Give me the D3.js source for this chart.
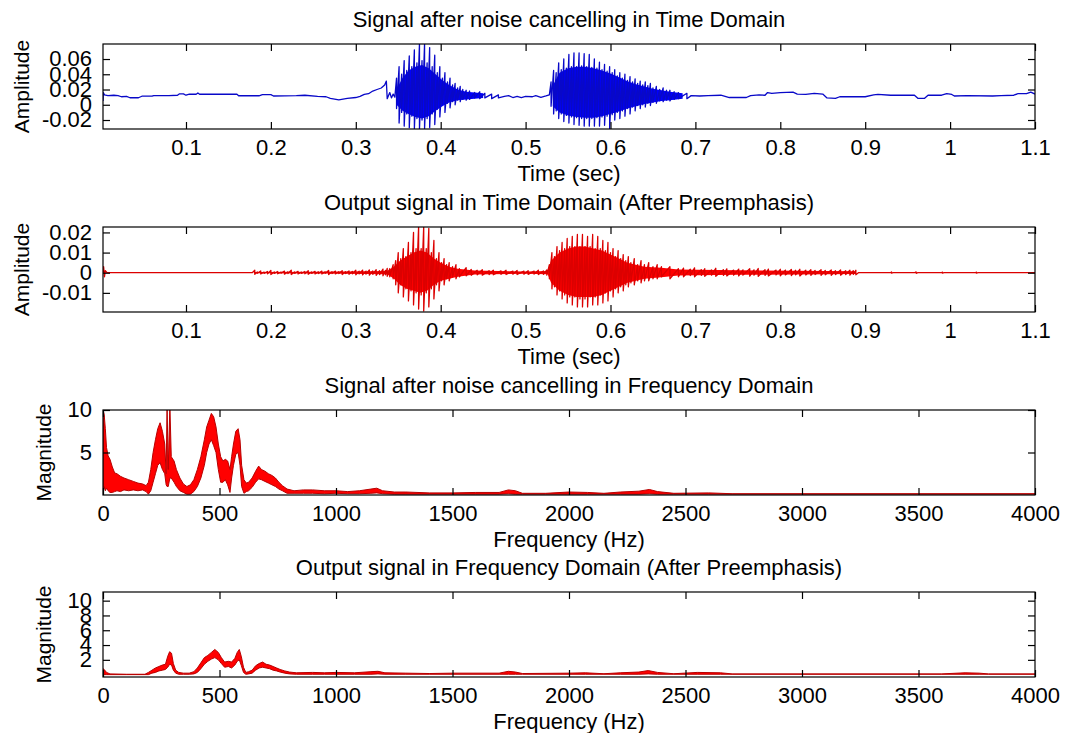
<!DOCTYPE html>
<html>
<head>
<meta charset="utf-8">
<script src="https://cdn.jsdelivr.net/npm/d3@7"></script>
<style>
  body { margin: 0; background: #fff; }
  text { font-family: "Liberation Sans", Arial, sans-serif; fill: #000; }
</style>
</head>
<body>
<script>
// tick values for each panel
const timeTicks = [0.1, 0.2, 0.3, 0.4, 0.5, 0.6, 0.7, 0.8, 0.9, 1, 1.1];
const freqTicks = [0, 500, 1000, 1500, 2000, 2500, 3000, 3500, 4000];
const cleanAmpTicks = [-0.02, 0, 0.02, 0.04, 0.06];
const preAmpTicks = [-0.01, 0, 0.01, 0.02];
const cleanMagTicks = [5, 10];
const preMagTicks = [2, 4, 6, 8, 10];

// waveform trace rows: [t, v] for a single sample, [t, high, low] where the trace swings
const cleanSignal = [
  [0.0023, 0.005], [0.0026, 0.016], [0.004, 0.013], [0.008, 0.012], [0.015, 0.0125], [0.02, 0.012],
  [0.024, 0.0105], [0.03, 0.011], [0.034, 0.0092], [0.044, 0.0092], [0.048, 0.0112], [0.06, 0.0112],
  [0.062, 0.012], [0.08, 0.012], [0.09, 0.0125], [0.092, 0.0142], [0.097, 0.0142], [0.1, 0.0125],
  [0.104, 0.0138], [0.112, 0.0138], [0.114, 0.0155], [0.116, 0.0138], [0.16, 0.0138], [0.162, 0.0118],
  [0.186, 0.0118], [0.19, 0.0132], [0.2, 0.0132], [0.203, 0.0115], [0.23, 0.012], [0.24, 0.0125],
  [0.255, 0.011], [0.265, 0.0105], [0.27, 0.0085], [0.28, 0.0065], [0.29, 0.0085], [0.3, 0.0095],
  [0.305, 0.011], [0.31, 0.0135], [0.315, 0.0145], [0.32, 0.018], [0.325, 0.02], [0.33, 0.022],
  [0.334, 0.026], [0.336, 0.031], [0.337, 0.008], [0.34, 0.016], [0.342, 0.009], [0.344, 0.014], [0.346, 0.01],
  [0.348, 0.035, -0.005], [0.351, 0.05, -0.024], [0.354, 0.04, -0.01], [0.357, 0.058, -0.028],
  [0.36, 0.045, -0.012], [0.363, 0.064, -0.03], [0.366, 0.05, -0.015], [0.369, 0.072, -0.032],
  [0.372, 0.055, -0.018], [0.375, 0.08, -0.032], [0.378, 0.058, -0.02], [0.381, 0.08, -0.032],
  [0.384, 0.055, -0.018], [0.387, 0.075, -0.03], [0.39, 0.05, -0.012], [0.393, 0.065, -0.026],
  [0.396, 0.042, -0.006], [0.399, 0.05, -0.016], [0.402, 0.035, 0.0], [0.405, 0.042, -0.01],
  [0.408, 0.03, 0.002], [0.411, 0.035, -0.004], [0.414, 0.026, 0.004], [0.417, 0.028, 0.0],
  [0.42, 0.022, 0.006], [0.423, 0.024, 0.004], [0.426, 0.02, 0.007], [0.43, 0.019, 0.006],
  [0.434, 0.018, 0.007], [0.44, 0.016, 0.009], [0.446, 0.017, 0.008], [0.452, 0.015, 0.009],
  [0.46, 0.014, 0.008], [0.468, 0.013, 0.009],
  [0.475, 0.011], [0.48, 0.012], [0.485, 0.0095], [0.49, 0.011], [0.495, 0.0095], [0.5, 0.011],
  [0.508, 0.0105], [0.512, 0.012], [0.518, 0.0098], [0.524, 0.0115], [0.528, 0.013],
  [0.53, 0.03, -0.002], [0.533, 0.045, -0.012], [0.536, 0.042, -0.008], [0.539, 0.055, -0.018],
  [0.542, 0.046, -0.012], [0.545, 0.06, -0.022], [0.548, 0.048, -0.014], [0.551, 0.066, -0.024],
  [0.554, 0.05, -0.016], [0.557, 0.068, -0.026], [0.56, 0.05, -0.017], [0.563, 0.068, -0.027],
  [0.566, 0.051, -0.018], [0.569, 0.067, -0.028], [0.572, 0.05, -0.018], [0.575, 0.066, -0.028],
  [0.578, 0.049, -0.018], [0.581, 0.06, -0.028], [0.584, 0.048, -0.017], [0.587, 0.056, -0.028],
  [0.59, 0.046, -0.016], [0.593, 0.053, -0.027], [0.596, 0.044, -0.015], [0.599, 0.05, -0.031],
  [0.602, 0.042, -0.013], [0.605, 0.046, -0.02], [0.608, 0.038, -0.01], [0.611, 0.042, -0.018],
  [0.614, 0.035, -0.008], [0.617, 0.04, -0.015], [0.62, 0.032, -0.005], [0.623, 0.037, -0.012],
  [0.626, 0.03, -0.003], [0.629, 0.034, -0.008], [0.632, 0.028, -0.001], [0.635, 0.031, -0.005],
  [0.638, 0.026, 0.0], [0.641, 0.03, -0.003], [0.644, 0.025, 0.002], [0.647, 0.028, -0.001],
  [0.65, 0.022, 0.003], [0.654, 0.024, 0.002], [0.658, 0.02, 0.005], [0.662, 0.022, 0.004],
  [0.666, 0.019, 0.006], [0.67, 0.019, 0.005], [0.675, 0.017, 0.007], [0.68, 0.016, 0.008], [0.69, 0.015, 0.008],
  [0.695, 0.012], [0.705, 0.0115], [0.715, 0.012], [0.73, 0.0125], [0.74, 0.0095], [0.76, 0.0095],
  [0.765, 0.012], [0.775, 0.013], [0.782, 0.0125], [0.785, 0.016], [0.79, 0.015], [0.8, 0.016],
  [0.815, 0.0165], [0.82, 0.014], [0.83, 0.0135], [0.84, 0.015], [0.85, 0.014], [0.855, 0.009],
  [0.865, 0.0085], [0.87, 0.0105], [0.9, 0.0105], [0.91, 0.013], [0.915, 0.0135], [0.93, 0.0125],
  [0.958, 0.0125], [0.962, 0.0085], [0.97, 0.0085], [0.974, 0.0125], [0.99, 0.0125], [0.996, 0.0145],
  [1.002, 0.0135], [1.005, 0.0115], [1.02, 0.012], [1.05, 0.0115], [1.06, 0.012], [1.075, 0.0125],
  [1.08, 0.0145], [1.09, 0.0145], [1.095, 0.0165], [1.1, 0.014]
];

// solid inner band of the dense parts: [t, high, low], null between separate stretches
const cleanCore = [
  [0.348, 0.02, 0.0], [0.355, 0.035, -0.008], [0.362, 0.045, -0.012], [0.37, 0.05, -0.016],
  [0.378, 0.052, -0.018], [0.386, 0.048, -0.015], [0.394, 0.04, -0.008], [0.402, 0.032, -0.002],
  [0.41, 0.026, 0.003], [0.42, 0.02, 0.006], [0.43, 0.017, 0.007], [0.45, 0.015, 0.009],
  null,
  [0.532, 0.025, -0.002], [0.54, 0.042, -0.01], [0.55, 0.048, -0.014], [0.56, 0.05, -0.016],
  [0.57, 0.05, -0.017], [0.58, 0.048, -0.017], [0.59, 0.045, -0.015], [0.6, 0.041, -0.012],
  [0.61, 0.036, -0.009], [0.62, 0.031, -0.005], [0.63, 0.027, -0.002], [0.64, 0.024, 0.001],
  [0.65, 0.021, 0.003], [0.66, 0.019, 0.005], [0.67, 0.017, 0.006], [0.685, 0.015, 0.008]
];

const preSignal = [
  [0.0023, 0], [0.003, 0.003], [0.004, -0.002], [0.005, 0.001], [0.007, 0], [0.05, 0], [0.1, 0], [0.15, 0], [0.178, 0],
  [0.181, 0.0012, -0.0008], [0.184, 0.0004, -0.0003], [0.188, 0.0009, -0.0006], [0.192, 0.0003, -0.0003],
  [0.196, 0.0006, -0.0005], [0.2, 0.0011, -0.0009], [0.204, 0.0004, -0.0003], [0.208, 0.0006, -0.0005],
  [0.212, 0.0003, -0.0002], [0.216, 0.0008, -0.0007], [0.22, 0.0004, -0.0004], [0.224, 0.0012, -0.0009],
  [0.228, 0.0004, -0.0003], [0.232, 0.0007, -0.0006], [0.236, 0.0003, -0.0003], [0.24, 0.0006, -0.0005],
  [0.244, 0.001, -0.0008], [0.248, 0.0004, -0.0003], [0.252, 0.0007, -0.0006], [0.256, 0.0004, -0.0004],
  [0.26, 0.0008, -0.0006], [0.264, 0.0004, -0.0003], [0.268, 0.0011, -0.0009], [0.272, 0.0005, -0.0004],
  [0.276, 0.0008, -0.0006], [0.28, 0.0005, -0.0004], [0.284, 0.001, -0.0009], [0.288, 0.0005, -0.0004],
  [0.292, 0.0009, -0.0008], [0.296, 0.0006, -0.0005], [0.3, 0.0012, -0.001], [0.304, 0.0007, -0.0006],
  [0.308, 0.0013, -0.0011], [0.312, 0.0008, -0.0007], [0.316, 0.0014, -0.0012], [0.32, 0.0009, -0.0008],
  [0.324, 0.0015, -0.0013], [0.328, 0.001, -0.0009], [0.332, 0.0018, -0.0015], [0.335, 0.0012, -0.001],
  [0.337, 0.0022, -0.0018],
  [0.34, 0.002, -0.002], [0.344, 0.004, -0.003], [0.347, 0.006, -0.006], [0.35, 0.01, -0.01],
  [0.353, 0.007, -0.006], [0.356, 0.012, -0.012], [0.359, 0.008, -0.008], [0.362, 0.015, -0.014],
  [0.365, 0.01, -0.009], [0.368, 0.02, -0.016], [0.371, 0.012, -0.01], [0.374, 0.023, -0.018],
  [0.377, 0.012, -0.011], [0.38, 0.023, -0.019], [0.383, 0.012, -0.01], [0.386, 0.022, -0.017],
  [0.389, 0.01, -0.008], [0.392, 0.016, -0.013], [0.395, 0.007, -0.006], [0.398, 0.01, -0.009],
  [0.401, 0.005, -0.004], [0.404, 0.007, -0.006], [0.407, 0.004, -0.003], [0.41, 0.005, -0.004],
  [0.414, 0.003, -0.002], [0.418, 0.004, -0.003], [0.422, 0.002, -0.002], [0.43, 0.0025, -0.0015],
  [0.436, 0.0016, -0.0013], [0.443, 0.0012, -0.001], [0.449, 0.0015, -0.0012], [0.457, 0.001, -0.0009],
  [0.462, 0.0013, -0.001], [0.471, 0.0009, -0.0008], [0.477, 0.0012, -0.0009], [0.485, 0.0008, -0.0007],
  [0.49, 0.0011, -0.0009], [0.498, 0.0008, -0.0007], [0.503, 0.001, -0.0008], [0.51, 0.0008, -0.0007],
  [0.515, 0.0012, -0.0009], [0.521, 0.0009, -0.0008], [0.525, 0.0014, -0.0012],
  [0.528, 0.004, -0.003], [0.531, 0.01, -0.008], [0.534, 0.008, -0.007], [0.537, 0.013, -0.011],
  [0.54, 0.011, -0.009], [0.543, 0.015, -0.013], [0.546, 0.012, -0.011], [0.549, 0.017, -0.015],
  [0.552, 0.013, -0.012], [0.555, 0.018, -0.016], [0.558, 0.013, -0.012], [0.561, 0.019, -0.017],
  [0.564, 0.013, -0.013], [0.567, 0.019, -0.017], [0.57, 0.013, -0.013], [0.573, 0.018, -0.017],
  [0.576, 0.013, -0.012], [0.579, 0.019, -0.016], [0.582, 0.012, -0.012], [0.585, 0.018, -0.016],
  [0.588, 0.012, -0.011], [0.591, 0.016, -0.015], [0.594, 0.011, -0.01], [0.597, 0.015, -0.014],
  [0.6, 0.01, -0.009], [0.603, 0.012, -0.012], [0.606, 0.008, -0.008], [0.609, 0.011, -0.01],
  [0.612, 0.007, -0.007], [0.615, 0.009, -0.009], [0.618, 0.006, -0.006], [0.621, 0.008, -0.007],
  [0.624, 0.005, -0.005], [0.628, 0.007, -0.006], [0.632, 0.004, -0.004], [0.636, 0.006, -0.005],
  [0.64, 0.004, -0.004], [0.645, 0.005, -0.004], [0.65, 0.003, -0.003], [0.655, 0.004, -0.003],
  [0.66, 0.003, -0.002], [0.67, 0.003, -0.003], [0.68, 0.002, -0.002],
  [0.686, 0.0023, -0.002], [0.694, 0.0017, -0.0014], [0.699, 0.0024, -0.002], [0.707, 0.0015, -0.0013],
  [0.711, 0.002, -0.0018], [0.719, 0.0014, -0.0012], [0.724, 0.0022, -0.0018], [0.733, 0.0015, -0.0013],
  [0.737, 0.0019, -0.0016], [0.745, 0.0013, -0.0012], [0.751, 0.0018, -0.0016], [0.756, 0.0014, -0.0012],
  [0.764, 0.002, -0.0017], [0.769, 0.0014, -0.0012], [0.774, 0.0021, -0.0018], [0.782, 0.0015, -0.0013],
  [0.786, 0.0018, -0.0016], [0.795, 0.0013, -0.0011], [0.8, 0.0017, -0.0015], [0.806, 0.0013, -0.0011],
  [0.813, 0.0016, -0.0014], [0.818, 0.0012, -0.001], [0.823, 0.0017, -0.0016], [0.83, 0.0013, -0.0011],
  [0.836, 0.0015, -0.0013], [0.841, 0.0011, -0.0009], [0.848, 0.0015, -0.0013], [0.853, 0.0011, -0.001],
  [0.86, 0.0014, -0.0013], [0.865, 0.001, -0.0009], [0.871, 0.0014, -0.0012], [0.877, 0.001, -0.0009],
  [0.882, 0.0013, -0.0012], [0.886, 0.001, -0.0008], [0.889, 0.0012, -0.001],
  [0.892, 0], [0.93, 0], [0.931, 0.0004, -0.0002], [0.933, 0], [0.958, 0], [0.96, 0.0004, -0.0003],
  [0.962, 0], [0.99, 0], [0.991, 0.0003, -0.0002], [0.993, 0], [1.03, 0], [1.031, 0.0003, -0.0002],
  [1.033, 0], [1.1, 0]
];

const preCore = [
  [0.18, 0.0004, -0.0003], [0.26, 0.0005, -0.0004], [0.337, 0.0009, -0.0008],
  [0.345, 0.003, -0.003], [0.352, 0.006, -0.006], [0.36, 0.008, -0.008], [0.368, 0.01, -0.009],
  [0.376, 0.011, -0.01], [0.384, 0.01, -0.009], [0.392, 0.007, -0.006], [0.4, 0.005, -0.004],
  [0.41, 0.003, -0.003], [0.42, 0.002, -0.002], [0.44, 0.0011, -0.0009], [0.5, 0.0006, -0.0005],
  [0.526, 0.0008, -0.0007],
  [0.53, 0.006, -0.005], [0.54, 0.01, -0.009], [0.55, 0.012, -0.011], [0.56, 0.013, -0.012],
  [0.57, 0.013, -0.012], [0.58, 0.012, -0.012], [0.59, 0.011, -0.011], [0.6, 0.009, -0.009],
  [0.61, 0.007, -0.007], [0.62, 0.005, -0.005], [0.63, 0.004, -0.004], [0.64, 0.003, -0.003],
  [0.66, 0.0025, -0.0022], [0.68, 0.0016, -0.0014], [0.75, 0.0012, -0.001], [0.82, 0.001, -0.0009],
  [0.889, 0.0007, -0.0006]
];

// spectrum envelopes: [Hz, upper, lower]
const cleanSpectrum = [
  [0, 10, 0.2], [5, 9.5, 1], [10, 7.8, 0.5], [15, 5.6, 0.8], [22, 4.6, 0.5], [30, 4.2, 0.3],
  [40, 3.3, 0.3], [50, 2.6, 0.4], [60, 2.5, 0.5], [75, 2.2, 0.4], [90, 2.0, 0.6], [110, 1.8, 0.5],
  [130, 1.6, 0.6], [150, 1.4, 0.5], [170, 1.3, 0.6], [185, 1.1, 0.4], [195, 1.5, 0.1], [205, 3.0, 0.5],
  [215, 5.0, 1.5], [225, 6.5, 2.5], [235, 7.8, 3.5], [245, 8.5, 3.8], [255, 7.5, 3.0], [265, 6.0, 2.5],
  [271, 2.5, 1.2], [275, 10.5, 1.0], [280, 3.0, 1.0], [287, 10.5, 2.0], [293, 4.5, 2.0],
  [305, 4.0, 1.5], [315, 3.0, 1.0], [330, 2.0, 0.5], [345, 1.3, 0.3], [360, 1.0, 0.1], [375, 1.2, 0.1],
  [390, 1.8, 0.4], [405, 3.0, 1.0], [420, 4.5, 2.0], [435, 6.5, 3.5], [445, 8.0, 5.0], [455, 8.8, 6.0],
  [465, 9.6, 6.5], [475, 9.2, 5.8], [485, 8.0, 5.0], [495, 6.0, 3.0], [505, 4.5, 1.5], [515, 4.0, 1.5],
  [525, 4.2, 1.8], [535, 4.0, 1.2], [545, 3.0, 0.3], [552, 4.5, 2.0], [560, 6.0, 3.5], [570, 7.5, 4.8],
  [580, 7.8, 5.0], [588, 6.5, 3.5], [595, 3.5, 1.0], [605, 1.8, 0.2], [615, 1.4, 0.4], [625, 1.5, 0.5],
  [640, 2.0, 0.9], [655, 2.8, 1.5], [668, 3.4, 1.9], [680, 3.0, 1.8], [695, 2.8, 1.6], [710, 2.5, 1.4],
  [725, 2.3, 1.2], [740, 2.0, 1.0], [755, 1.5, 0.7], [770, 1.1, 0.5], [790, 0.7, 0.2], [820, 0.5, 0.2],
  [860, 0.6, 0.2], [900, 0.6, 0.2], [950, 0.5, 0.15], [1000, 0.5, 0.2], [1050, 0.4, 0.15], [1100, 0.5, 0.15],
  [1150, 0.7, 0.2], [1175, 0.8, 0.25], [1200, 0.5, 0.15], [1250, 0.35, 0.1], [1300, 0.35, 0.1],
  [1400, 0.25, 0.1], [1500, 0.25, 0.1], [1600, 0.3, 0.1], [1700, 0.3, 0.1], [1740, 0.6, 0.15],
  [1770, 0.5, 0.1], [1800, 0.2, 0.1], [1900, 0.2, 0.1], [2000, 0.35, 0.1], [2080, 0.3, 0.1],
  [2150, 0.2, 0.1], [2220, 0.35, 0.1], [2300, 0.45, 0.1], [2345, 0.65, 0.15], [2380, 0.4, 0.1],
  [2450, 0.2, 0.1], [2600, 0.25, 0.1], [2700, 0.15, 0.1], [3000, 0.15, 0.1], [3500, 0.15, 0.1], [4000, 0.15, 0.1]
];

const preSpectrum = [
  [0, 0.8, 0], [8, 0.6, 0], [15, 0.3, 0], [30, 0.1, 0], [100, 0.05, 0], [180, 0.05, 0], [195, 0.3, 0],
  [210, 0.6, 0.2], [225, 0.9, 0.3], [240, 1.1, 0.5], [255, 1.3, 0.6], [268, 1.4, 0.7], [278, 2.5, 1.0],
  [286, 3.1, 1.4], [294, 2.9, 1.3], [302, 1.5, 0.6], [312, 0.6, 0.2], [325, 0.3, 0.05], [345, 0.2, 0.05],
  [370, 0.2, 0.05], [390, 0.4, 0.1], [405, 0.9, 0.3], [420, 1.6, 0.8], [435, 2.3, 1.4], [450, 2.6, 1.8],
  [465, 3.0, 2.1], [480, 3.4, 2.3], [495, 3.0, 2.0], [508, 2.3, 1.5], [522, 1.7, 1.0], [538, 1.8, 1.1],
  [552, 1.7, 0.9], [566, 2.2, 1.3], [576, 3.0, 1.8], [585, 3.4, 2.0], [594, 2.4, 1.2], [603, 1.0, 0.3],
  [613, 0.3, 0.05], [625, 0.4, 0.1], [640, 0.6, 0.2], [655, 1.2, 0.6], [670, 1.5, 0.9], [685, 1.7, 1.0],
  [700, 1.4, 0.9], [715, 1.3, 0.8], [730, 1.1, 0.6], [745, 0.9, 0.5], [760, 0.7, 0.35], [780, 0.5, 0.2],
  [800, 0.35, 0.1], [830, 0.25, 0.05], [900, 0.3, 0.05], [950, 0.25, 0.05], [1000, 0.3, 0.05],
  [1080, 0.25, 0.05], [1150, 0.4, 0.05], [1180, 0.45, 0.1], [1210, 0.25, 0.05], [1300, 0.2, 0.05],
  [1400, 0.15, 0.05], [1500, 0.2, 0.05], [1700, 0.2, 0.05], [1740, 0.45, 0.05], [1770, 0.35, 0.05],
  [1800, 0.15, 0.05], [2000, 0.2, 0.05], [2070, 0.25, 0.05], [2150, 0.12, 0.05], [2220, 0.25, 0.05],
  [2300, 0.35, 0.05], [2340, 0.55, 0.1], [2380, 0.3, 0.05], [2450, 0.12, 0.05], [2550, 0.3, 0.05],
  [2650, 0.25, 0.05], [2700, 0.1, 0.05], [3600, 0.1, 0.05], [3700, 0.25, 0.05], [3760, 0.2, 0.05],
  [3800, 0.1, 0.05], [4000, 0.1, 0.05]
];

const panels = [
  { title: "Signal after noise cancelling in Time Domain", xlabel: "Time (sec)", ylabel: "Amplitude",
    xDomain: [0.00225, 1.1], yDomain: [-0.0318, 0.0797], xTicks: timeTicks, yTicks: cleanAmpTicks,
    kind: "wave", rows: cleanSignal, core: cleanCore, color: "#0808c8", fill: "#0000ff" },
  { title: "Output signal in Time Domain (After Preemphasis)", xlabel: "Time (sec)", ylabel: "Amplitude",
    xDomain: [0.00225, 1.1], yDomain: [-0.0195, 0.0227], xTicks: timeTicks, yTicks: preAmpTicks,
    kind: "wave", rows: preSignal, core: preCore, color: "#dc0000", fill: "#ff0000" },
  { title: "Signal after noise cancelling in Frequency Domain", xlabel: "Frequency (Hz)", ylabel: "Magnitude",
    xDomain: [0, 4000], yDomain: [0, 10], xTicks: freqTicks, yTicks: cleanMagTicks,
    kind: "spec", rows: cleanSpectrum, color: "#b80000", fill: "#ff0000" },
  { title: "Output signal in Frequency Domain  (After Preemphasis)", xlabel: "Frequency (Hz)", ylabel: "Magnitude",
    xDomain: [0, 4000], yDomain: [-0.32, 11.17], xTicks: freqTicks, yTicks: preMagTicks,
    kind: "spec", rows: preSpectrum, color: "#b80000", fill: "#ff0000" }
];

const W = 1067, H = 733;
const plotLeft = 103, plotRight = 1035, plotH = 85;
const plotTops = [44, 227, 410, 592];
const ylabelX = { Amplitude: 29, Magnitude: 51 };
const stretch = "scale(1.1,1.06)";

const svg = d3.select("body").append("svg")
  .attr("width", W)
  .attr("height", H);

const pw = plotRight - plotLeft;

panels.forEach(function (p, i) {
  const g = svg.append("g")
    .attr("transform", "translate(" + plotLeft + "," + plotTops[i] + ")");

  const x = d3.scaleLinear().domain(p.xDomain).range([0, pw]);
  const y = d3.scaleLinear().domain(p.yDomain).range([plotH, 0]);

  g.append("clipPath").attr("id", "clip" + i)
    .append("rect").attr("width", pw).attr("height", plotH);

  const plot = g.append("g").attr("clip-path", "url(#clip" + i + ")");

  const band = d3.area()
    .defined(d => d !== null)
    .x(d => x(d[0]))
    .y0(d => y(d[2]))
    .y1(d => y(d[1]));

  if (p.kind === "wave") {
    plot.append("path")
      .datum(p.core)
      .attr("d", band)
      .attr("fill", p.fill);

    // each row gives one or two points so the dense parts swing up and down
    const pts = p.rows.flatMap(r => r.slice(1).map(v => [r[0], v]));
    const line = d3.line().x(d => x(d[0])).y(d => y(d[1]));
    plot.append("path")
      .datum(pts)
      .attr("d", line)
      .attr("fill", "none")
      .attr("stroke", p.color)
      .attr("stroke-width", 1.3)
      .attr("stroke-linejoin", "round");
  } else {
    plot.append("path")
      .datum(p.rows)
      .attr("d", band)
      .attr("fill", p.fill)
      .attr("stroke", p.color)
      .attr("stroke-width", 1)
      .attr("stroke-linejoin", "round");
  }

  g.append("rect")
    .attr("width", pw)
    .attr("height", plotH)
    .attr("fill", "none")
    .attr("stroke", "#000")
    .attr("stroke-width", 1.2);

  const fmt = d => String(d);

  const bottom = g.append("g").attr("transform", "translate(0," + plotH + ")")
    .call(d3.axisBottom(x).tickValues(p.xTicks).tickFormat(fmt)
      .tickSizeInner(-7).tickSizeOuter(0).tickPadding(10));
  const top = g.append("g")
    .call(d3.axisTop(x).tickValues(p.xTicks).tickFormat("")
      .tickSizeInner(-7).tickSizeOuter(0));
  const left = g.append("g")
    .call(d3.axisLeft(y).tickValues(p.yTicks).tickFormat(fmt)
      .tickSizeInner(-7).tickSizeOuter(0).tickPadding(10));
  const right = g.append("g").attr("transform", "translate(" + pw + ",0)")
    .call(d3.axisRight(y).tickValues(p.yTicks).tickFormat("")
      .tickSizeInner(-7).tickSizeOuter(0));

  [bottom, top, left, right].forEach(a => {
    a.attr("font-size", 20);
    a.select(".domain").remove();
    a.selectAll(".tick line").attr("stroke", "#000").attr("stroke-width", 1.2);
    a.selectAll("text").attr("transform", stretch);
  });

  g.append("text")
    .attr("transform", "translate(" + pw / 2 + "," + (-17) + ") " + stretch)
    .attr("text-anchor", "middle")
    .attr("font-size", 20)
    .text(p.title);

  g.append("text")
    .attr("transform", "translate(" + pw / 2 + "," + (plotH + 52) + ") " + stretch)
    .attr("text-anchor", "middle")
    .attr("font-size", 20)
    .text(p.xlabel);

  svg.append("text")
    .attr("transform", "translate(" + ylabelX[p.ylabel] + "," + (plotTops[i] + plotH / 2) + ") rotate(-90)")
    .attr("text-anchor", "middle")
    .attr("font-size", 21)
    .text(p.ylabel);
});
</script>
</body>
</html>
